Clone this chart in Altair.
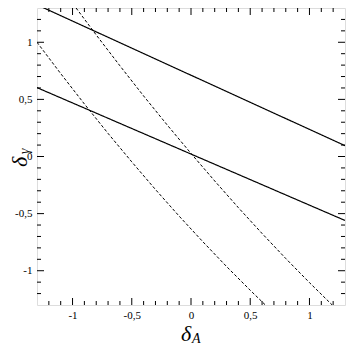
import altair as alt
import pandas as pd

# axis ranges
x_domain = [-1.3, 1.3]
y_domain = [-1.3, 1.3]

# curves
solid_upper_x = [-1.3, 1.3]
solid_upper_y = [1.328, 0.095]
solid_lower_x = [-1.3, 1.3]
solid_lower_y = [0.603, -0.56]
dashed_upper_x = [-0.97, -0.8, -0.6, -0.4, -0.2, 0.0, 0.2, 0.4, 0.6, 0.8, 1.0, 1.194]
dashed_upper_y = [1.30, 1.064, 0.794, 0.530, 0.275, 0.027, -0.214, -0.448, -0.674, -0.893, -1.104, -1.302]
dashed_lower_x = [-1.3, -1.1, -0.9, -0.7, -0.5, -0.3, -0.1, 0.1, 0.3, 0.5, 0.628]
dashed_lower_y = [1.0, 0.726, 0.460, 0.202, -0.047, -0.289, -0.522, -0.746, -0.963, -1.171, -1.30]

# ticks
major_ticks = [-1.0, -0.5, 0.0, 0.5, 1.0]
minor_ticks = [-1.2, -1.1, -0.9, -0.8, -0.7, -0.6, -0.4, -0.3, -0.2, -0.1,
               0.1, 0.2, 0.3, 0.4, 0.6, 0.7, 0.8, 0.9, 1.1, 1.2]

W, H = 308, 297
MAJ, MIN = 7, 4
FONT = "Liberation Serif"

xs = alt.Scale(domain=x_domain, nice=False, zero=False)
ys = alt.Scale(domain=y_domain, nice=False, zero=False)
label_expr = "replace(toString(datum.value), '.', ',')"
x_axis = alt.Axis(values=major_ticks, ticks=False, domain=False, grid=False,
                  labelFont=FONT, labelFontSize=11, labelColor="black",
                  labelPadding=4, labelExpr=label_expr, title=None)
y_axis = alt.Axis(values=major_ticks, ticks=False, domain=False, grid=False,
                  labelFont=FONT, labelFontSize=11, labelColor="black",
                  labelPadding=5, labelExpr=label_expr, title=None)


def curve(xv, yv, dashed):
    df = pd.DataFrame({"x": xv, "y": yv, "o": list(range(len(xv)))})
    m = alt.Chart(df).mark_line(
        color="black",
        strokeWidth=1.0 if dashed else 1.2,
        strokeDash=[3, 2] if dashed else [1, 0],
        clip=True,
    )
    return m.encode(
        x=alt.X("x:Q", scale=xs, axis=x_axis),
        y=alt.Y("y:Q", scale=ys, axis=y_axis),
        order="o:Q",
    )


def ticks(values, length):
    df = pd.DataFrame({"v": values})
    base = alt.Chart(df).mark_rule(color="black", strokeWidth=1)
    bottom = base.encode(x=alt.X("v:Q", scale=xs, axis=x_axis),
                         y=alt.value(H), y2=alt.value(H - length))
    top = base.encode(x=alt.X("v:Q", scale=xs, axis=x_axis),
                      y=alt.value(0), y2=alt.value(length))
    left = base.encode(y=alt.Y("v:Q", scale=ys, axis=y_axis),
                       x=alt.value(0), x2=alt.value(length))
    right = base.encode(y=alt.Y("v:Q", scale=ys, axis=y_axis),
                        x=alt.value(W), x2=alt.value(W - length))
    return [bottom, top, left, right]


def label(txt, x, y, size, angle=0):
    df = pd.DataFrame({"t": [txt]})
    return alt.Chart(df).mark_text(
        font=FONT, fontSize=size, fontStyle="italic", color="black",
        align="left", baseline="alphabetic", angle=angle,
    ).encode(text="t:N", x=alt.value(x), y=alt.value(y))


layers = [
    curve(solid_upper_x, solid_upper_y, False),
    curve(solid_lower_x, solid_lower_y, False),
    curve(dashed_upper_x, dashed_upper_y, True),
    curve(dashed_lower_x, dashed_lower_y, True),
]
layers += ticks(major_ticks, MAJ)
layers += ticks(minor_ticks, MIN)
layers += [
    label("δ", 144, 333, 22),
    label("A", 155, 335, 14),
    label("δ", -10, 159, 22, 270),
    label("γ", -8, 146, 14, 270),
]

chart = alt.layer(*layers).properties(
    width=W, height=H,
    autosize="none",
    padding={"left": 29, "top": 0, "right": 1, "bottom": 41},
).configure_view(stroke="black", strokeWidth=1.5).configure(background="white")

chart.save("out.html", embed_options={"renderer": "svg", "actions": False})
